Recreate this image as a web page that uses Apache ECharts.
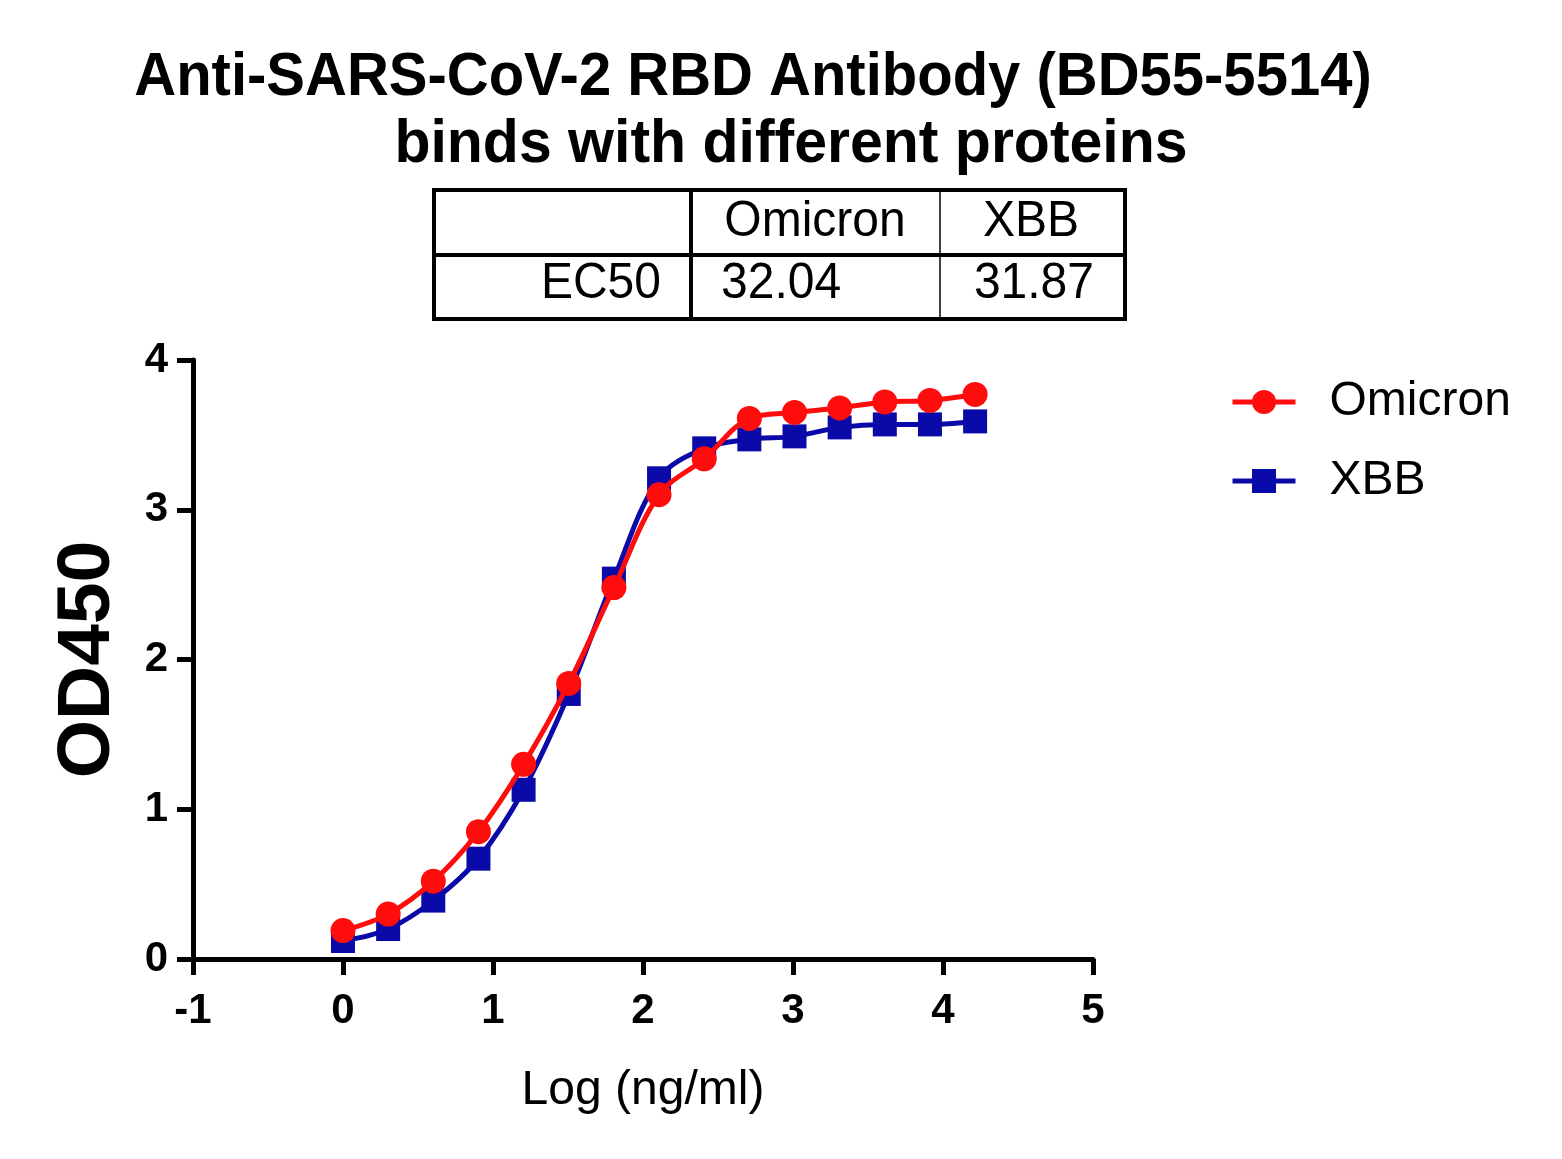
<!DOCTYPE html>
<html>
<head>
<meta charset="utf-8">
<script src="https://cdn.jsdelivr.net/npm/echarts@6/dist/echarts.min.js"></script>
<style>
html,body{margin:0;padding:0;background:#fff;}
#chart{width:1562px;height:1159px;}
</style>
</head>
<body>
<div id="chart"></div>
<script>
const titleLines = ['Anti-SARS-CoV-2 RBD Antibody (BD55-5514)', 'binds with different proteins'];
const tableHeader = ['', 'Omicron', 'XBB'];
const tableRow = ['EC50', '32.04', '31.87'];
const seriesNames = ['Omicron', 'XBB'];
const logConc = [0, 0.301, 0.602, 0.903, 1.204, 1.505, 1.806, 2.107, 2.408, 2.709, 3.010, 3.311, 3.612, 3.913, 4.214];
const omicron = [0.19, 0.30, 0.52, 0.85, 1.30, 1.84, 2.48, 3.10, 3.34, 3.61, 3.65, 3.68, 3.72, 3.73, 3.77];
const xbb = [0.12, 0.20, 0.39, 0.67, 1.13, 1.77, 2.54, 3.21, 3.41, 3.47, 3.49, 3.55, 3.57, 3.57, 3.59];
const xTicks = [-1, 0, 1, 2, 3, 4, 5];
const yTicks = [0, 1, 2, 3, 4];
const xTitle = 'Log (ng/ml)';
const yTitle = 'OD450';

const FONT = '"Liberation Sans", Arial, sans-serif';
const chart = echarts.init(document.getElementById('chart'));

const pair = (xs, ys) => xs.map((x, i) => [x, ys[i]]);

// table geometry
const tL = 434, tR = 1125, tT = 190, tB = 319, tMid = 255, c1 = 691, c2 = 940;
const txt = (x, y, s, font, align, sy) => ({
  type: 'text', x: x, y: y, scaleY: sy || 1,
  style: {text: s, font: font, fill: '#000', align: align, verticalAlign: 'middle'}
});
const graphics = [
  txt(753, 78, titleLines[0], 'bold 58px ' + FONT, 'center', 1.06),
  txt(791, 145, titleLines[1], 'bold 59px ' + FONT, 'center', 1.05),
  {type:'rect', shape:{x:tL, y:tT, width:tR-tL, height:tB-tT}, style:{fill:'none', stroke:'#000', lineWidth:4}},
  {type:'line', shape:{x1:tL, y1:tMid, x2:tR, y2:tMid}, style:{stroke:'#000', lineWidth:4}},
  {type:'line', shape:{x1:c1, y1:tT, x2:c1, y2:tB}, style:{stroke:'#000', lineWidth:4}},
  {type:'line', shape:{x1:c2, y1:tT, x2:c2, y2:tB}, style:{stroke:'#000', lineWidth:1.5}},
  txt(815, 222, tableHeader[1], '48px ' + FONT, 'center', 1.05),
  txt(1031, 222, tableHeader[2], '48px ' + FONT, 'center', 1.05),
  txt(661, 284, tableRow[0], '48px ' + FONT, 'right', 1.05),
  txt(721, 284, tableRow[1], '48px ' + FONT, 'left', 1.05),
  txt(1094, 284, tableRow[2], '48px ' + FONT, 'right', 1.05)
];

const red = '#ff0d0d', blue = '#0a0aa8';

chart.setOption({
  animation: false,
  backgroundColor: '#fff',
  textStyle: {fontFamily: FONT},
  grid: {left: 193, right: 469, top: 360, bottom: 200, containLabel: false},
  legend: {
    orient: 'vertical',
    left: 1230, top: 378, padding: 0,
    itemWidth: 63, itemHeight: 30,
    itemGap: 31,
    data: seriesNames,
    lineStyle: {width: 5},
    textStyle: {fontSize: 48, color: '#000', fontFamily: FONT, padding: [0, 0, 0, 29]}
  },
  xAxis: {
    type: 'value', min: xTicks[0], max: xTicks[xTicks.length-1], interval: 1,
    name: xTitle, nameLocation: 'middle', nameGap: 108,
    nameTextStyle: {fontSize: 48, color: '#000', fontFamily: FONT},
    axisLine: {show: true, onZero: false, lineStyle: {color: '#000', width: 5}},
    axisTick: {show: true, length: 16, lineStyle: {color: '#000', width: 5}},
    axisLabel: {fontSize: 42, fontWeight: 'bold', color: '#000', margin: 31, fontFamily: FONT},
    splitLine: {show: false}
  },
  yAxis: {
    type: 'value', min: yTicks[0], max: yTicks[yTicks.length-1], interval: 1,
    name: yTitle, nameLocation: 'middle', nameGap: 67, nameRotate: 90,
    nameTextStyle: {fontSize: 75, fontWeight: 'bold', color: '#000', fontFamily: FONT},
    axisLine: {show: true, onZero: false, lineStyle: {color: '#000', width: 5}},
    axisTick: {show: true, length: 16, lineStyle: {color: '#000', width: 5}},
    axisLabel: {fontSize: 42, fontWeight: 'bold', color: '#000', margin: 25, fontFamily: FONT},
    splitLine: {show: false}
  },
  series: [
    {
      name: seriesNames[1], type: 'line', data: pair(logConc, xbb),
      smooth: 0.35, symbol: 'rect', symbolSize: 24, z: 2,
      lineStyle: {color: blue, width: 5}, itemStyle: {color: blue}
    },
    {
      name: seriesNames[0], type: 'line', data: pair(logConc, omicron),
      smooth: 0.35, symbol: 'circle', symbolSize: 25, z: 3,
      lineStyle: {color: red, width: 5}, itemStyle: {color: red}
    }
  ],
  graphic: graphics
});
</script>
</body>
</html>
